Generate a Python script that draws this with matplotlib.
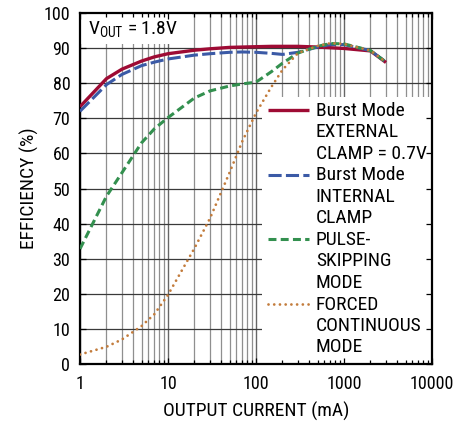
import numpy as np
import matplotlib
matplotlib.use("Agg")
import matplotlib.pyplot as plt
from matplotlib.patches import Rectangle
from matplotlib.legend_handler import HandlerLine2D
from matplotlib.ticker import LogLocator, NullFormatter

plt.rcParams["font.family"] = ["Roboto Condensed", "DejaVu Sans Condensed",
                               "Liberation Sans Narrow", "Roboto", "DejaVu Sans"]
plt.rcParams["mathtext.default"] = "regular"

# output current (mA)
current = [1, 2, 3, 5, 7, 10, 20, 30, 50, 70, 100, 150, 200, 300, 500, 700, 1000, 2000, 3000]

burst_ext = [73.3, 81.3, 84.0, 86.3, 87.5, 88.4, 89.4, 89.8, 90.2, 90.3, 90.4, 90.5,
             90.5, 90.5, 90.3, 90.1, 89.9, 89.2, 85.9]
burst_int = [72.0, 79.6, 82.5, 85.0, 86.0, 86.9, 88.0, 88.4, 88.8, 88.9, 88.8, 88.5,
             88.2, 88.8, 90.3, 91.0, 91.0, 89.3, 86.0]
pulse_skip = [32.8, 47.8, 54.5, 63.0, 67.0, 70.2, 75.8, 77.8, 79.2, 79.8, 80.3, 83.3,
              85.7, 88.6, 90.5, 91.3, 91.2, 89.3, 86.0]
forced_cont = [2.7, 4.9, 7.0, 10.8, 14.2, 19.7, 33.0, 41.5, 54.5, 63.5, 71.5, 79.0,
               83.8, 88.6, 90.6, 91.4, 91.2, 89.3, 86.0]

labels = [
    "Burst Mode\nEXTERNAL\nCLAMP = 0.7V",
    "Burst Mode\nINTERNAL\nCLAMP",
    "PULSE-\nSKIPPING\nMODE",
    "FORCED\nCONTINUOUS\nMODE",
]
x_ticks = [1, 10, 100, 1000, 10000]
x_ticklabels = ["1", "10", "100", "1000", "10000"]
y_ticks = list(range(0, 101, 10))

RED = "#9e0b34"
BLUE = "#3b5aa6"
GREEN = "#33904f"
ORANGE = "#c37c3c"
FS = 14


class TopLineHandler(HandlerLine2D):
    """Put the legend sample next to the first line of a multi-line label."""

    def __init__(self, shift, **kw):
        super().__init__(**kw)
        self.shift = shift

    def create_artists(self, legend, orig_handle, xdescent, ydescent,
                       width, height, fontsize, trans):
        artists = super().create_artists(legend, orig_handle, xdescent, ydescent,
                                         width, height, fontsize, trans)
        for a in artists:
            a.set_ydata(np.asarray(a.get_ydata()) + self.shift)
        return artists


fig = plt.figure(figsize=(4.73, 4.26), dpi=100)
ax = fig.add_axes([80 / 473, 62 / 426, 352 / 473, 351 / 426])
ax.set_xscale("log")
ax.set_xlim(1, 10000)
ax.set_ylim(0, 100)
ax.set_axisbelow(True)

ax.set_xticks(x_ticks, labels=x_ticklabels)
ax.xaxis.set_minor_locator(LogLocator(base=10, subs=range(2, 10)))
ax.xaxis.set_minor_formatter(NullFormatter())
ax.set_yticks(y_ticks)
ax.tick_params(which="both", length=0, labelsize=13)
ax.tick_params(axis="y", pad=7)
ax.tick_params(axis="x", pad=8)

ax.grid(which="major", axis="y", color="#3a3a3a", lw=0.9)
ax.grid(which="major", axis="x", color="#666666", lw=1.0)
ax.grid(which="minor", axis="x", color="#8f8f8f", lw=0.9)

for s in ax.spines.values():
    s.set_linewidth(1.6)
    s.set_color("black")

# white panels hiding the grid under the label and the legend
ax.add_patch(Rectangle((0, 0.912), 0.318, 0.088, transform=ax.transAxes,
                       facecolor="white", edgecolor="none", zorder=1))
ax.add_patch(Rectangle((0.517, 0), 0.483, 0.761, transform=ax.transAxes,
                       facecolor="white", edgecolor="none", zorder=1))

l1, = ax.plot(current, burst_ext, color=RED, lw=2.4, zorder=3,
              solid_capstyle="butt")
l2, = ax.plot(current, burst_int, color=BLUE, lw=2.2, zorder=3,
              linestyle=(0, (4.3, 1.4)))
l3, = ax.plot(current, pulse_skip, color=GREEN, lw=2.2, zorder=4,
              linestyle=(0, (2.6, 1.4)))
l4, = ax.plot(current, forced_cont, color=ORANGE, lw=2.0, zorder=5,
              linestyle=(0, (0.01, 2.05)), dash_capstyle="round")

ax.text(0.023, 0.939, r"V$_{OUT}$ = 1.8V", transform=ax.transAxes,
        fontsize=FS, va="baseline", ha="left", zorder=6)

ax.set_xlabel("OUTPUT CURRENT (mA)", fontsize=FS, labelpad=6)
ax.set_ylabel("EFFICIENCY (%)", fontsize=FS, labelpad=3)

shift = 15.9
leg = ax.legend(
    [l1, l2, l3, l4], labels,
    loc="upper left", bbox_to_anchor=(0.534, 0.747),
    frameon=False, fontsize=FS, borderpad=0, borderaxespad=0,
    handlelength=2.1, handletextpad=0.36, labelspacing=0.2,
    handler_map={l: TopLineHandler(shift) for l in [l1, l2, l3, l4]},
)
for t in leg.get_texts():
    t.set_linespacing(1.24)
leg.set_zorder(7)

# tick marks drawn on top of the white panels
ov = fig.add_axes(ax.get_position(), facecolor="none")
ov.set_xscale("log")
ov.set_xlim(1, 10000)
ov.set_ylim(0, 100)
ov.set_xticks(x_ticks)
ov.xaxis.set_minor_locator(LogLocator(base=10, subs=range(2, 10)))
ov.set_yticks(y_ticks)
ov.tick_params(which="both", direction="in", top=True, right=True,
               labelbottom=False, labelleft=False, color="black", width=0.9)
ov.tick_params(which="major", length=4)
ov.tick_params(which="minor", length=3)
for s in ov.spines.values():
    s.set_visible(False)

fig.savefig("out.png", dpi=100)
